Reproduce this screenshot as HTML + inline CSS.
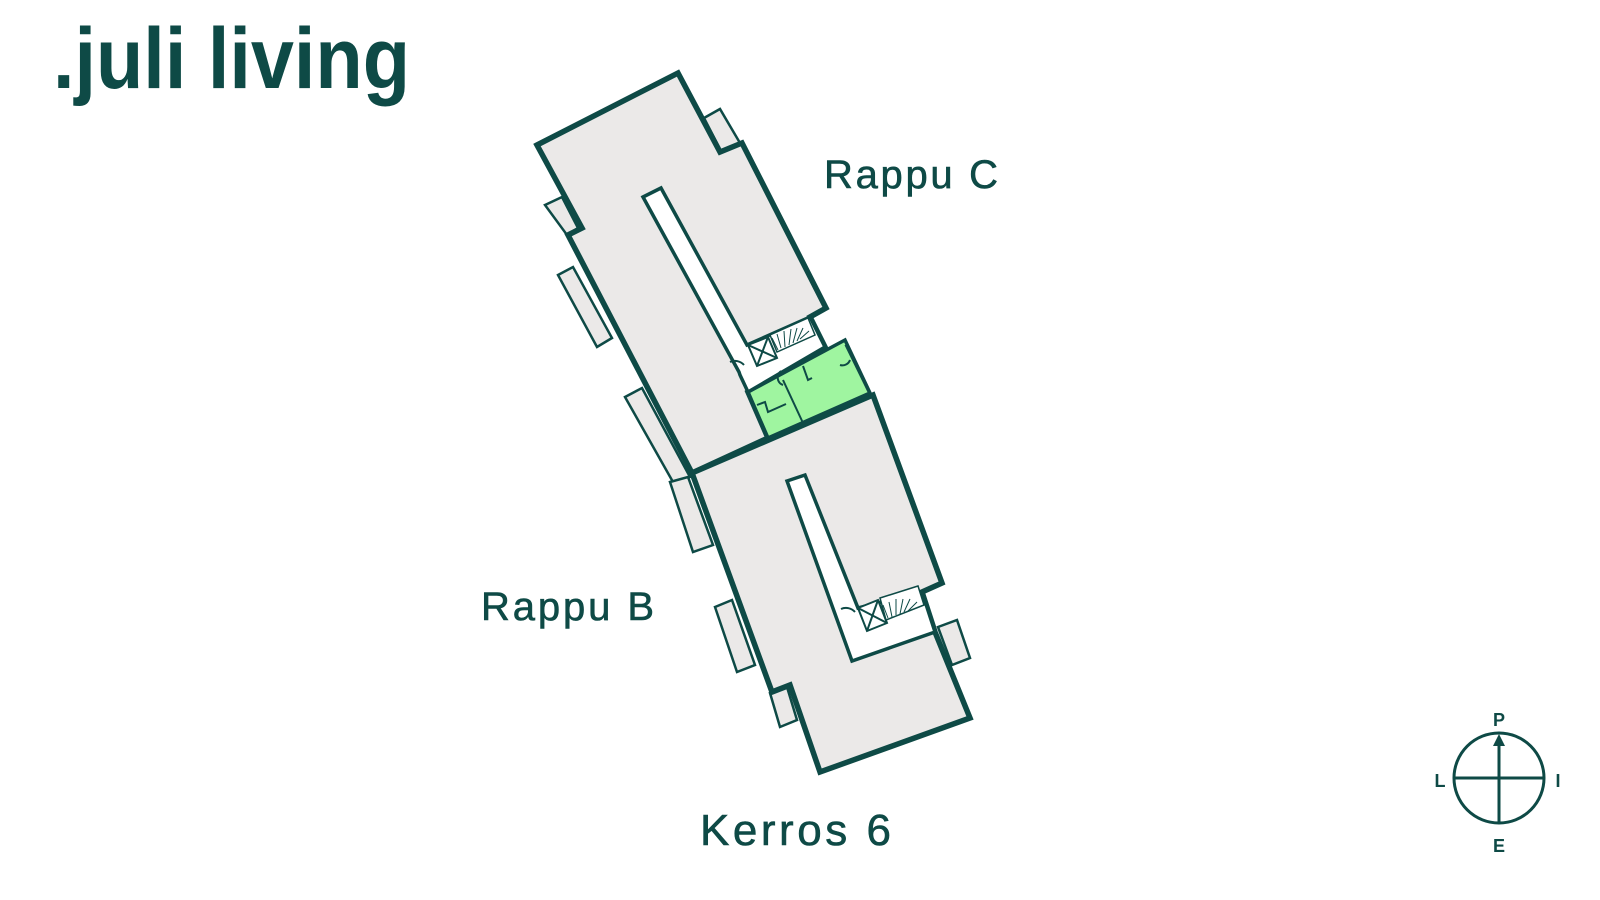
<!DOCTYPE html>
<html><head><meta charset="utf-8"><style>
html,body{margin:0;padding:0;background:#fff;}
svg{display:block;}
text{font-family:"Liberation Sans",sans-serif;fill:#0e4a46;}
</style></head><body>
<svg width="1600" height="900" viewBox="0 0 1600 900" xmlns="http://www.w3.org/2000/svg">
<rect width="1600" height="900" fill="#fff"/>
<text x="53" y="88" font-size="86" font-weight="bold" textLength="357" lengthAdjust="spacingAndGlyphs">.juli living</text>

<g stroke="#0e4a46" stroke-linejoin="miter" fill="#ebe9e8">
<g stroke-width="2.5">
<polygon points="704,118 720,109 740,143 722,153"/>
<polygon points="545,205 562,197 578,228 567,235"/>
<polygon points="558,275 573,267 612,338 597,347"/>
<polygon points="625,397 642,388 690,477 673,482"/>
<polygon points="670,482 688,477 713,545 693,552"/>
<polygon points="715,607 732,600 755,665 737,672"/>
<polygon points="770,693 787,687 797,720 780,727"/>
<polygon points="938,627 957,620 970,658 952,665"/>
</g>
<polygon stroke-width="5.5" points="537,145 678,73 720,152 742,143 826,308 810,317 825,347 748,392 768,438 692,473 568,235 582,228"/>
<polygon stroke-width="5.5" points="692,473 873,395 942,583 922,592 935,632 970,718 820,772 790,685 772,692"/>
<polygon stroke-width="3.5" fill="#9ff5a0" points="748,392 845,340 870,393 768,438"/>
<polygon stroke-width="3.5" fill="#fff" points="643,197 661,188 747,345 810,317 825,347 748,392 740,375 739,372"/>
<polygon stroke-width="3.5" fill="#fff" points="787,481 805,475 858,608 922,592 935,632 852,661"/>
</g>
<g stroke="#0e4a46" stroke-width="2" fill="none">
<polyline points="757,405 765,402 768,412 786,404"/>
<line x1="783" y1="380" x2="803" y2="423"/>
<polyline points="803,366 808,380 812,378"/>
<path d="M783,385 a8,8 0 0 1 -2,-14"/>
<path d="M850,360 a8,8 0 0 1 -10,5"/>
<line x1="845" y1="345" x2="868" y2="392" stroke-width="1"/>
</g>
<g stroke="#0e4a46" stroke-width="2" fill="#fff">
<polygon points="748,345 768,337 777,358 757,366"/>
<line x1="748" y1="345" x2="777" y2="358"/>
<line x1="768" y1="337" x2="757" y2="366"/>
<polygon points="770,335 808,318 815,335 777,352" fill="#fff" stroke-width="1.5"/>
<path d="M778,350 l-6,-12 M781,348 l-4,-14 M785,347 l-1,-16 M789,345 l2,-16 M793,343 l4,-15 M797,341 l6,-13 M800,339 l9,-8" stroke-width="1"/>
<polygon points="858,608 878,600 887,623 867,631"/>
<line x1="858" y1="608" x2="887" y2="623"/>
<line x1="878" y1="600" x2="867" y2="631"/>
<polygon points="880,598 918,586 924,605 886,620" stroke-width="1.5"/>
<path d="M888,618 l-5,-13 M892,617 l-3,-15 M896,615 l0,-16 M900,614 l3,-15 M904,612 l6,-13 M908,611 l9,-9" stroke-width="1"/>
<path d="M744,365 a12,12 0 0 0 -14,-3" fill="none"/>
<path d="M855,612 a12,12 0 0 0 -14,-3" fill="none"/>
</g>

<text x="824" y="188" font-size="40" textLength="174" lengthAdjust="spacing" stroke="#0e4a46" stroke-width="0.6">Rappu C</text>
<text x="481" y="620" font-size="40" textLength="173" lengthAdjust="spacing" stroke="#0e4a46" stroke-width="0.6">Rappu B</text>
<text x="700" y="845" font-size="44" textLength="191" lengthAdjust="spacing" stroke="#0e4a46" stroke-width="0.6">Kerros 6</text>

<g stroke="#0e4a46" stroke-width="3" fill="none">
<circle cx="1499" cy="778" r="45"/>
<line x1="1454" y1="778" x2="1544" y2="778"/>
<line x1="1499" y1="823" x2="1499" y2="742"/>
</g>
<polygon points="1499,734 1493,746 1505,746" fill="#0e4a46"/>
<g font-size="18" font-weight="bold" text-anchor="middle">
<text x="1499" y="726">P</text>
<text x="1440" y="787">L</text>
<text x="1558" y="787">I</text>
<text x="1499" y="852">E</text>
</g>
</svg>
</body></html>
